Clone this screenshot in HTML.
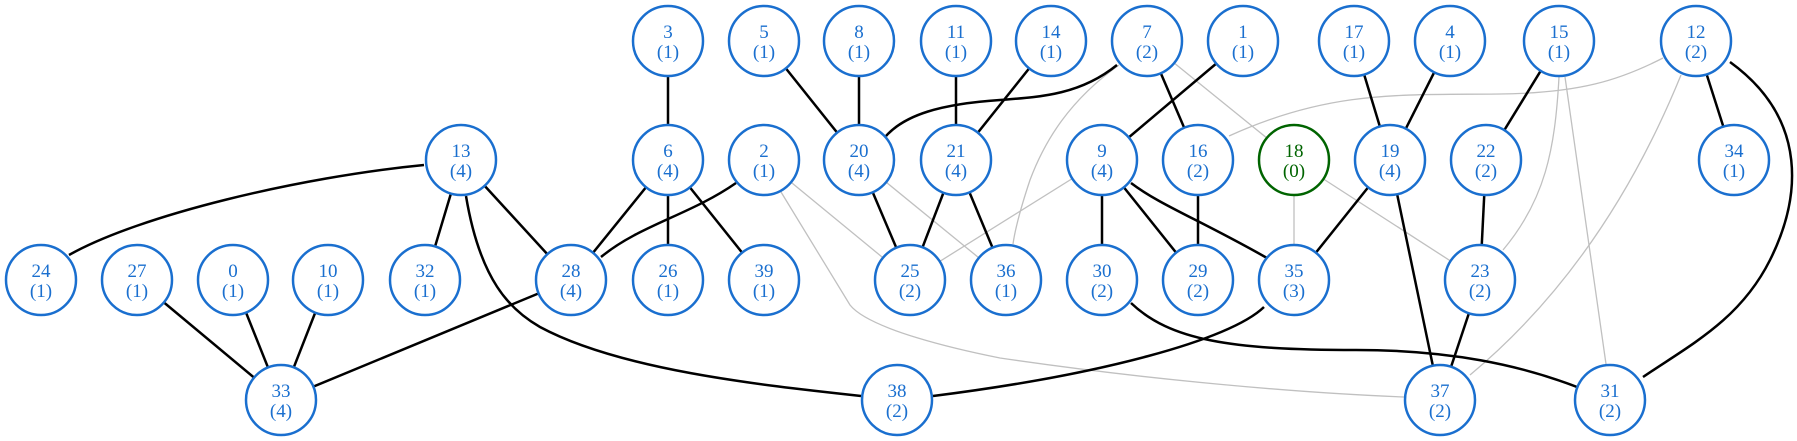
<!DOCTYPE html>
<html><head><meta charset="utf-8"><style>
html,body{margin:0;padding:0;background:#fff;}
svg{display:block}
text{font-family:"Liberation Serif","DejaVu Serif",serif;font-size:19px;text-anchor:middle;fill:#1a6fcf}
</style></head><body>
<svg width="1797" height="441" viewBox="0 0 1797 441" xmlns="http://www.w3.org/2000/svg">
<g stroke="#c0c0c0" stroke-width="1.3" fill="none">
<line x1="1147" y1="41" x2="1294" y2="160"/>
<line x1="859" y1="160" x2="1006" y2="280"/>
<line x1="764" y1="160" x2="910" y2="280"/>
<line x1="1102" y1="160" x2="910" y2="280"/>
<line x1="1294" y1="160" x2="1294" y2="280"/>
<line x1="1294" y1="160" x2="1480" y2="280"/>
<line x1="1565" y1="77" x2="1606" y2="364"/>
<path d="M1119,65 C1070,100 1045,140 1030,180 C1020,210 1015,230 1013,244"/>
<path d="M1663,58 C1620,80 1580,93 1500,94 C1400,95 1330,90 1229,136"/>
<path d="M1681,75 C1630,200 1560,300 1470,375"/>
<path d="M1559,77 C1555,150 1545,200 1503,250"/>
<path d="M781,192 L850,305 C870,330 960,350 1000,358 C1150,380 1300,393 1404,397"/>
</g>
<g stroke="#000" stroke-width="2.5" fill="none">
<line x1="668" y1="41" x2="668" y2="160"/>
<line x1="764" y1="41" x2="859" y2="160"/>
<line x1="859" y1="41" x2="859" y2="160"/>
<line x1="956" y1="41" x2="956" y2="160"/>
<line x1="1051" y1="41" x2="956" y2="160"/>
<line x1="1147" y1="41" x2="1198" y2="160"/>
<line x1="1243" y1="41" x2="1102" y2="160"/>
<line x1="1354" y1="41" x2="1390" y2="160"/>
<line x1="1450" y1="41" x2="1390" y2="160"/>
<line x1="1559" y1="41" x2="1486" y2="160"/>
<line x1="1696" y1="41" x2="1734" y2="160"/>
<line x1="461" y1="160" x2="425" y2="280"/>
<line x1="461" y1="160" x2="571" y2="280"/>
<line x1="668" y1="160" x2="571" y2="280"/>
<line x1="668" y1="160" x2="668" y2="280"/>
<line x1="668" y1="160" x2="764" y2="280"/>
<line x1="859" y1="160" x2="910" y2="280"/>
<line x1="956" y1="160" x2="910" y2="280"/>
<line x1="956" y1="160" x2="1006" y2="280"/>
<line x1="1102" y1="160" x2="1102" y2="280"/>
<line x1="1102" y1="160" x2="1198" y2="280"/>
<line x1="1198" y1="160" x2="1198" y2="280"/>
<line x1="1390" y1="160" x2="1294" y2="280"/>
<line x1="1390" y1="160" x2="1440" y2="400"/>
<line x1="1486" y1="160" x2="1480" y2="280"/>
<line x1="1480" y1="280" x2="1440" y2="400"/>
<line x1="571" y1="280" x2="281" y2="400"/>
<line x1="137" y1="280" x2="281" y2="400"/>
<line x1="233" y1="280" x2="281" y2="400"/>
<line x1="328" y1="280" x2="281" y2="400"/>
<path d="M1117,65 C1080,95 1040,97 1000,100 C940,104 905,115 886,136"/>
<path d="M424,165 C300,177 140,215 69,255"/>
<path d="M466,196 C480,280 510,310 540,327 C620,370 760,385 861,396"/>
<path d="M736,183 C690,215 640,225 601,257"/>
<path d="M1131,183 C1160,205 1200,220 1267,258"/>
<path d="M1264,307 C1230,340 1100,375 933,396"/>
<path d="M1131,303 C1170,340 1230,350 1356,350 C1450,350 1520,365 1577,387"/>
<path d="M1730,62 C1810,120 1800,200 1770,260 C1740,320 1690,345 1643,377"/>
</g>
<g stroke="#1a6fcf" stroke-width="2.5" fill="#fff">
<circle cx="668" cy="41" r="35"/><circle cx="764" cy="41" r="35"/><circle cx="859" cy="41" r="35"/><circle cx="956" cy="41" r="35"/><circle cx="1051" cy="41" r="35"/><circle cx="1147" cy="41" r="35"/><circle cx="1243" cy="41" r="35"/><circle cx="1354" cy="41" r="35"/><circle cx="1450" cy="41" r="35"/><circle cx="1559" cy="41" r="35"/><circle cx="1696" cy="41" r="35"/>
<circle cx="461" cy="160" r="35"/><circle cx="668" cy="160" r="35"/><circle cx="764" cy="160" r="35"/><circle cx="859" cy="160" r="35"/><circle cx="956" cy="160" r="35"/><circle cx="1102" cy="160" r="35"/><circle cx="1198" cy="160" r="35"/><circle cx="1390" cy="160" r="35"/><circle cx="1486" cy="160" r="35"/><circle cx="1734" cy="160" r="35"/>
<circle cx="41" cy="280" r="35"/><circle cx="137" cy="280" r="35"/><circle cx="233" cy="280" r="35"/><circle cx="328" cy="280" r="35"/><circle cx="425" cy="280" r="35"/><circle cx="571" cy="280" r="35"/><circle cx="668" cy="280" r="35"/><circle cx="764" cy="280" r="35"/><circle cx="910" cy="280" r="35"/><circle cx="1006" cy="280" r="35"/><circle cx="1102" cy="280" r="35"/><circle cx="1198" cy="280" r="35"/><circle cx="1294" cy="280" r="35"/><circle cx="1480" cy="280" r="35"/>
<circle cx="281" cy="400" r="35"/><circle cx="897" cy="400" r="35"/><circle cx="1440" cy="400" r="35"/><circle cx="1610" cy="400" r="35"/>
<circle cx="1294" cy="160" r="35" stroke="#006400"/>
</g>
<g>
<text x="668" y="38">3</text><text x="668" y="58">(1)</text>
<text x="764" y="38">5</text><text x="764" y="58">(1)</text>
<text x="859" y="38">8</text><text x="859" y="58">(1)</text>
<text x="956" y="38">11</text><text x="956" y="58">(1)</text>
<text x="1051" y="38">14</text><text x="1051" y="58">(1)</text>
<text x="1147" y="38">7</text><text x="1147" y="58">(2)</text>
<text x="1243" y="38">1</text><text x="1243" y="58">(1)</text>
<text x="1354" y="38">17</text><text x="1354" y="58">(1)</text>
<text x="1450" y="38">4</text><text x="1450" y="58">(1)</text>
<text x="1559" y="38">15</text><text x="1559" y="58">(1)</text>
<text x="1696" y="38">12</text><text x="1696" y="58">(2)</text>
<text x="461" y="157">13</text><text x="461" y="177">(4)</text>
<text x="668" y="157">6</text><text x="668" y="177">(4)</text>
<text x="764" y="157">2</text><text x="764" y="177">(1)</text>
<text x="859" y="157">20</text><text x="859" y="177">(4)</text>
<text x="956" y="157">21</text><text x="956" y="177">(4)</text>
<text x="1102" y="157">9</text><text x="1102" y="177">(4)</text>
<text x="1198" y="157">16</text><text x="1198" y="177">(2)</text>
<text x="1294" y="157" style="fill:#006400">18</text><text x="1294" y="177" style="fill:#006400">(0)</text>
<text x="1390" y="157">19</text><text x="1390" y="177">(4)</text>
<text x="1486" y="157">22</text><text x="1486" y="177">(2)</text>
<text x="1734" y="157">34</text><text x="1734" y="177">(1)</text>
<text x="41" y="277">24</text><text x="41" y="297">(1)</text>
<text x="137" y="277">27</text><text x="137" y="297">(1)</text>
<text x="233" y="277">0</text><text x="233" y="297">(1)</text>
<text x="328" y="277">10</text><text x="328" y="297">(1)</text>
<text x="425" y="277">32</text><text x="425" y="297">(1)</text>
<text x="571" y="277">28</text><text x="571" y="297">(4)</text>
<text x="668" y="277">26</text><text x="668" y="297">(1)</text>
<text x="764" y="277">39</text><text x="764" y="297">(1)</text>
<text x="910" y="277">25</text><text x="910" y="297">(2)</text>
<text x="1006" y="277">36</text><text x="1006" y="297">(1)</text>
<text x="1102" y="277">30</text><text x="1102" y="297">(2)</text>
<text x="1198" y="277">29</text><text x="1198" y="297">(2)</text>
<text x="1294" y="277">35</text><text x="1294" y="297">(3)</text>
<text x="1480" y="277">23</text><text x="1480" y="297">(2)</text>
<text x="281" y="397">33</text><text x="281" y="417">(4)</text>
<text x="897" y="397">38</text><text x="897" y="417">(2)</text>
<text x="1440" y="397">37</text><text x="1440" y="417">(2)</text>
<text x="1610" y="397">31</text><text x="1610" y="417">(2)</text>
</g>
</svg>
</body></html>
